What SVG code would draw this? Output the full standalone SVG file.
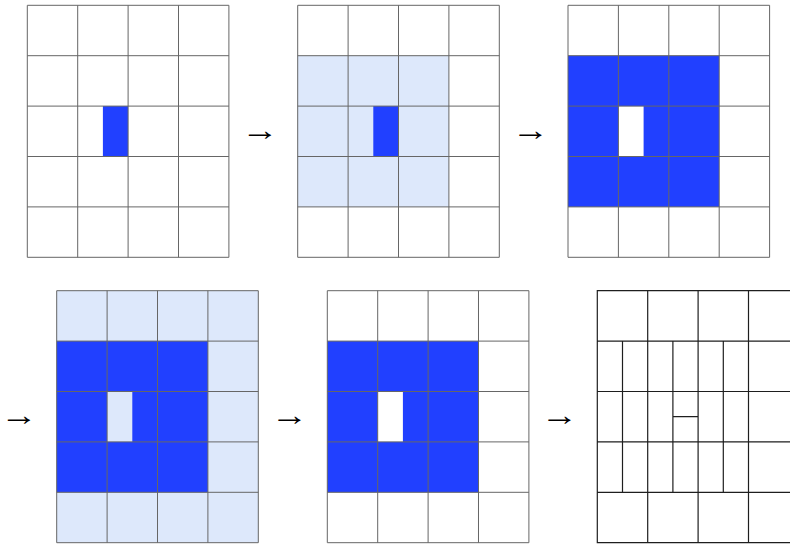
<svg xmlns="http://www.w3.org/2000/svg" width="790" height="544" viewBox="0 0 790 544">
<defs>
<style>
.bg{fill:#ffffff}
.blue{fill:#2140ff}
.light{fill:#dde8fb}
.white{fill:#ffffff}
.grid{fill:none;stroke:#666666;stroke-width:1}
.grid6{fill:none;stroke:#1e1e1e;stroke-width:1.2}
.arr{font-family:"Liberation Serif","DejaVu Serif",serif;font-size:30px;fill:#000;text-anchor:middle}
</style>
<g id="gridlines">
<path class="grid" d="M0,0H201.6V252H0Z M50.4,0V252 M100.8,0V252 M151.2,0V252 M0,50.4H201.6 M0,100.8H201.6 M0,151.2H201.6 M0,201.6H201.6"/>
</g>
</defs>
<rect class="bg" x="0" y="0" width="790" height="544"/>

<g id="panel1" transform="translate(27.3,5.3)">
<rect class="white" x="0" y="0" width="201.6" height="252"/>
<rect class="blue" x="75.6" y="100.8" width="25.2" height="50.4"/>
<use href="#gridlines"/>
</g>

<g id="panel2" transform="translate(297.7,5.3)">
<rect class="white" x="0" y="0" width="201.6" height="252"/>
<rect class="light" x="0" y="50.4" width="151.2" height="151.2"/>
<rect class="blue" x="75.6" y="100.8" width="25.2" height="50.4"/>
<use href="#gridlines"/>
</g>

<g id="panel3" transform="translate(568,5.3)">
<rect class="white" x="0" y="0" width="201.6" height="252"/>
<rect class="blue" x="0" y="50.4" width="151.2" height="151.2"/>
<rect class="white" x="50.4" y="100.8" width="25.2" height="50.4"/>
<use href="#gridlines"/>
</g>

<g id="panel4" transform="translate(56.7,290.7)">
<rect class="light" x="0" y="0" width="201.6" height="252"/>
<rect class="blue" x="0" y="50.4" width="151.2" height="151.2"/>
<rect class="light" x="50.4" y="100.8" width="25.2" height="50.4"/>
<use href="#gridlines"/>
</g>

<g id="panel5" transform="translate(327.3,290.7)">
<rect class="white" x="0" y="0" width="201.6" height="252"/>
<rect class="blue" x="0" y="50.4" width="151.2" height="151.2"/>
<rect class="white" x="50.4" y="100.8" width="25.2" height="50.4"/>
<use href="#gridlines"/>
</g>

<g id="panel6" transform="translate(597.3,290.7)">
<path class="grid6" d="M0,0H201.6V252H0Z M50.4,0V252 M100.8,0V252 M151.2,0V252 M0,50.4H201.6 M0,100.8H201.6 M0,151.2H201.6 M0,201.6H201.6 M25.2,50.4V201.6 M75.6,50.4V201.6 M126,50.4V201.6 M75.6,126H100.8"/>
</g>

<g id="connectors">
<text class="arr" transform="translate(260,140) scale(1.25,1)">→</text>
<text class="arr" transform="translate(530.5,140) scale(1.25,1)">→</text>
<text class="arr" transform="translate(19,425) scale(1.25,1)">→</text>
<text class="arr" transform="translate(289.5,425) scale(1.25,1)">→</text>
<text class="arr" transform="translate(559.5,425) scale(1.25,1)">→</text>
</g>
</svg>
